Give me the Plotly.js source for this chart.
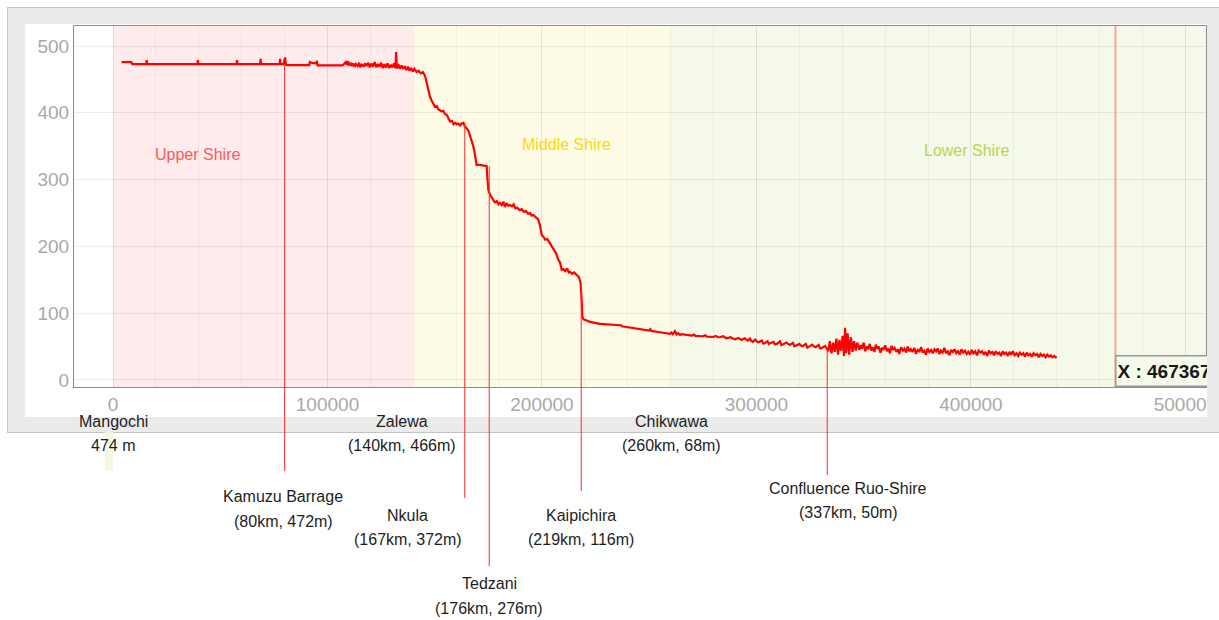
<!DOCTYPE html>
<html>
<head>
<meta charset="utf-8">
<script src="https://cdn.plot.ly/plotly-3.0.1.min.js"></script>
<style>
  html, body { margin: 0; padding: 0; background: #ffffff; width: 1219px; height: 620px; overflow: hidden; }
  #panel { position: absolute; left: 7px; top: 7px; width: 1240px; height: 424px; background: #ebebeb;
           border-top: 1.5px solid #c4c4c4; border-left: 1.5px solid #c8c8c8; border-bottom: 1.5px solid #c4c4c4; }
  #inner { position: absolute; left: 25px; top: 24px; width: 1182px; height: 393px; background: #ffffff; }
  #chart { position: absolute; left: 0; top: 0; width: 1219px; height: 620px; }
  #rightclip { position: absolute; left: 1207px; top: 24px; width: 20px; height: 393px; background: #ebebeb; z-index: 5; }
</style>
</head>
<body>
<div id="panel"></div>
<div id="inner"></div>
<div id="chart"></div>
<div id="rightclip"></div>
<script>
// ---------- DATA (distance km, elevation m) ----------
const upperProfile = [
  [4,476],[8.5,476],[9,473],[15.5,473],[15.7,479],[15.9,473],[39.4,473],[39.6,479],[39.8,473],
  [57.6,473],[57.8,479],[58,473],[68.6,473],[68.8,481],[69,473],[77.7,473],[77.9,481],[78.1,473],
  [79.5,473],[80.2,483],[80.6,472],[81,471.5],[91.5,471.5],[91.8,476],[92.5,475],[94.8,474],[95,478],
  [95.3,471],[107,471],[108,474],[108.5,476],[109,472],[109.5,477],[110,471],[110.7,475],[111.3,470],
  [112,474],[112.6,469],[113.2,473],[114,470],[114.7,475],[115.3,468],[116,473],[116.8,469],[117.5,474],
  [118.2,470],[119,475],[119.7,468],[120.5,474],[121.2,469],[122,476],[122.8,468],[123.5,473],[124.3,469],
  [125,475],[125.8,467],[126.5,473],[127.3,468],[128,474],[128.8,467],[129.5,472],[130.3,468],[131,474],
  [131.7,467],[132,491],[132.3,466],[133,473],[133.8,466],[134.5,471],[135.3,466],[136,470],[136.8,464],
  [137.5,469],[138.3,463],[139,467],[139.8,462],[140.5,466],[141.5,461],[142.5,463],[143.5,459],[144.5,461]
];
const middleProfile = [
  [145.5,455],[146.2,444],[147,432],[147.8,424],[148.6,418],[149.4,412],[150.1,409],[151,410],[151.7,405],
  [152.4,404],[153.2,402],[154,403],[154.8,398],[155.6,397],[156.3,392],[157.1,387],[158,388],[158.8,383],
  [159.5,385],[160.2,383],[161,384],[161.8,381],[162.5,384],[163.3,385],[164,380],[164.8,377],[165.6,374],
  [166.4,366],[167.2,359],[167.8,352],[168.4,344],[169,331],[169.5,322],[171,322],[172.5,321],[174.2,320],
  [174.6,300],[175,284],[176,276],[177.3,269],[178,266],[179,268],[179.7,263],[180.4,265],[181.2,262],
  [182,267],[182.7,259],[183.5,265],[184.3,261],[185.1,262],[186,260],[186.8,263],[187.6,257],[188.5,258],
  [189.7,254],[190.5,256],[191.5,252],[192.5,253],[193.5,249],[194.5,250],[195.2,246],[196,247],[197,244],
  [198.3,240],[199,232],[199.9,217],[200.8,214],[201.5,210],[202.5,211],[203.7,205],[204.5,200],[205.5,197],
  [206.5,190],[207.6,180],[208.4,176],[209.2,165],[210,166],[210.8,163],[211.7,167],[212.5,161],[213.1,162],
  [214,159],[215,161],[216.2,157],[217,155],[217.6,150],[218,145],[218.5,120],[218.8,95],[219.3,91],
  [220,90],[222.4,87]
];
const lowerProfile = [
  [227,84],[232,82.5],[236.4,81],[236.8,82],[237.2,80.5],[245,77],[250,74],[250.5,76],[251,73.5],[255,71.5],
  [259.7,69],[260.3,71],[261,68.5],[262,73],[262.8,68],[263.5,70],[264.3,67.5],[265,68.5],[270,66.5],[271,68],
  [271.5,66],[275,65.5],[276,67],[277,65],[280,64.5],[281,66],[282,64],[283,64],[284.5,65.5],[286,62.5],
  [288,64],[289,62],[290,61],[291.5,63],[292.2,61.5],[293,60],[294.5,62.5],[295.3,60],[296,59],[297,62],
  [297.6,58.5],[298.3,57],[299.5,60.5],[300.2,57.5],[301,56.5],[302.5,59],[303.2,54.5],[304,55.5],[305.2,58],
  [305.8,54],[306.3,55],[308,57],[308.6,53.5],[309.5,54],[311,58],[311.7,52],[312.5,53],[314,56],[314.8,54],
  [315.5,52.5],[317,55.5],[317.7,50.5],[318.5,51.5],[320,54],[320.6,52],[321.5,50.5],[323,54],[323.7,48.5],
  [324.5,50],[326,53],[326.6,50.5],[327.5,49],[329,52.5],[329.8,47],[330.5,48],[332,51],[333.5,43],[334.2,58],
  [335,40],[335.8,56],[336.5,42],[337.3,62],[338,38],[338.7,60],[339.4,44],[340.2,66],[340.8,36],[341.3,78],
  [341.8,40],[342.5,70],[343.2,38],[344,64],[344.8,42],[345.5,58],[346.3,44],[347,56],
  [348,45],[348.6,52],[349.2,47],[350,56],[350.7,43],[351.3,50],[352,46],[352.8,54],[353.5,44],[354.1,49],
  [355,42],[355.6,53],[356.4,47],[357,50],[357.8,41],[358.5,48],[359.2,45],[360,52],[360.8,43],[361.5,47],
  [362.2,40],[363,51],[363.7,45],[364.4,48],[365.2,42],[366,46],[366.6,39],[367.4,49],[368.3,44],[369,47],
  [369.8,41],[370.5,50],[371.3,43],[372,46],[372.8,42],[373.6,48],[374.4,39],[375.2,45],[376,43],[376.8,49],
  [377.5,41],[378.3,44],[379,38],[379.8,47],[380.6,42],[381.4,45],[382.2,40],[383,46],[383.8,43],[384.5,47],
  [385.3,39],[386,44],[386.8,41],[387.6,48],[388.4,40],[389.2,43],[390,37],[390.8,45],[391.6,42],[392.4,46],
  [393.2,40],[394,43],[394.8,38],[395.6,46],[396.4,41],[397.2,44],[398,39],[398.8,42],[399.6,38],[400.4,45],
  [401.2,40],[402,43],[402.8,37],[403.6,44],[404.4,41],[405.2,43],[406,38],[406.8,42],[407.6,36],[408.4,44],
  [409.2,40],[410,42],[410.8,37],[411.6,43],[412.4,39],[413.2,41],[414,36],[414.8,43],[415.6,39],[416.4,41],
  [417.2,36],[418,42],[418.8,38],[419.6,43],[420.4,37],[421.2,40],[422,36],[422.8,41],[423.6,38],[424.4,40],
  [425.2,35],[426,41],[426.8,37],[427.6,39],[428.4,35],[429.2,40],[430,37],[430.8,39],[431.6,34],[432.4,39],
  [433.2,36],[434,38],[434.8,34],[435.6,38],[436.4,35],[437.2,37],[438,34],[438.8,36],[439.5,34],[440,35]
];

const regionNames = ['Upper Shire', 'Middle Shire', 'Lower Shire'];
const regionStart = [0, 140000, 260000];
const regionEnd   = [140000, 260000, 520000];

const stationNames = ['Mangochi', 'Zalewa', 'Chikwawa', 'Kamuzu Barrage', 'Nkula', 'Tedzani', 'Kaipichira', 'Confluence Ruo-Shire'];
const stationInfo  = ['474 m', '(140km, 466m)', '(260km, 68m)', '(80km, 472m)', '(167km, 372m)', '(176km, 276m)', '(219km, 116m)', '(337km, 50m)'];

const markerDist = [80000, 164000, 175400, 218300, 333000];   // vertical marker lines (m)
const markerElev = [472, 386, 320, 145, 48];                  // elevation where each line starts (m)

const cursorX = 467367;

// ---------- LAYOUT / STYLE ----------
const regionFill  = ['#feebeb', '#fefce6', '#f5f9ea'];
const regionText  = ['#ff5a5a', '#ffd60a', '#b5d64c'];
const regionLabelX = [39600, 211200, 397700];
const regionLabelY = [337, 353, 343];

const labelX = [0, 134700, 260600, 79300, 137500, 175500, 218200, 342700];
const labelY = [-0.0942, -0.0942, -0.0942, -0.3047, -0.3573, -0.5457, -0.3573, -0.2825];
const lineGap = 0.0665;
const markerBottom = [-0.2327, -0.3075, -0.4958, -0.2881, -0.2438];

const profile = upperProfile.concat(middleProfile, lowerProfile);
const xs = profile.map(p => p[0] * 1000);
const ys = profile.map(p => p[1]);

const FONT = 'Liberation Sans, Arial, Helvetica, sans-serif';

const shapes = [];
regionNames.forEach((n, i) => {
  shapes.push({type: 'rect', xref: 'x', yref: 'paper', x0: regionStart[i], x1: regionEnd[i], y0: 0, y1: 1,
               fillcolor: regionFill[i], line: {width: 0}, layer: 'below'});
});
// faint green strip under Mangochi
shapes.push({type: 'rect', xref: 'x', yref: 'paper', x0: -3700, x1: 0, y0: -0.2299, y1: -0.1247,
             fillcolor: '#f2f8e2', line: {width: 0}, layer: 'below'});
markerDist.forEach((d, i) => {
  shapes.push({type: 'line', xref: 'x', yref: 'y', x0: d, x1: d, y0: markerElev[i], y1: -10.5,
               line: {color: '#ff2a2a', width: 1}});
  shapes.push({type: 'line', xref: 'x', yref: 'paper', x0: d, x1: d, y0: 0, y1: markerBottom[i],
               line: {color: '#ff2a2a', width: 1}});
});
shapes.push({type: 'line', xref: 'x', yref: 'paper', x0: cursorX, x1: cursorX, y0: 0, y1: 1,
             line: {color: '#f6a59d', width: 2}});

const annotations = [];
regionNames.forEach((n, i) => {
  annotations.push({x: regionLabelX[i], y: regionLabelY[i], xref: 'x', yref: 'y', text: n, showarrow: false,
                    font: {family: FONT, size: 16, color: regionText[i]}});
});
stationNames.forEach((n, i) => {
  annotations.push({x: labelX[i], y: labelY[i], xref: 'x', yref: 'paper', text: n, showarrow: false,
                    xanchor: 'center', yanchor: 'middle', font: {family: FONT, size: 16, color: '#1e1e1e'}});
  annotations.push({x: labelX[i], y: labelY[i] - lineGap, xref: 'x', yref: 'paper', text: stationInfo[i], showarrow: false,
                    xanchor: 'center', yanchor: 'middle', font: {family: FONT, size: 16, color: '#1e1e1e'}});
});
annotations.push({x: cursorX, y: 0, xref: 'x', yref: 'paper', xanchor: 'left', yanchor: 'bottom',
                  text: 'X : ' + cursorX, showarrow: false, align: 'left', width: 100, height: 27,
                  bgcolor: '#f5f9ea', bordercolor: '#9a9a9a', borderwidth: 1.5, borderpad: 1,
                  font: {family: FONT, size: 19, color: '#1a1a1a', weight: 'bold'}});

const trace = {x: xs, y: ys, type: 'scatter', mode: 'lines', line: {color: '#ff0000', width: 2.2},
               hoverinfo: 'skip', showlegend: false};

const layout = {
  width: 1219, height: 620,
  margin: {l: 74, r: 13, t: 26, b: 233, pad: 0},
  paper_bgcolor: 'rgba(0,0,0,0)', plot_bgcolor: 'rgba(0,0,0,0)',
  font: {family: FONT},
  showlegend: false,
  xaxis: {range: [-18200, 509600], dtick: 100000, tick0: 0, showgrid: true, gridcolor: 'rgba(0,0,0,0.09)', gridwidth: 1,
          minor: {dtick: 20000, showgrid: true, gridcolor: 'rgba(0,0,0,0.045)', gridwidth: 1},
          zeroline: false, showline: true, mirror: true, linecolor: '#8c8c8c', linewidth: 1,
          ticks: '', tickformat: 'd', tickfont: {family: FONT, size: 19, color: '#a9a9a9'}, fixedrange: true},
  yaxis: {range: [-10.5, 530], dtick: 100, tick0: 0, showgrid: true, gridcolor: 'rgba(0,0,0,0.07)', gridwidth: 1,
          zeroline: false, showline: true, mirror: true, linecolor: '#8c8c8c', linewidth: 1,
          ticks: '', tickfont: {family: FONT, size: 19, color: '#a9a9a9'}, fixedrange: true},
  shapes: shapes,
  annotations: annotations
};

Plotly.newPlot('chart', [trace], layout, {displayModeBar: false, staticPlot: true});
</script>
</body>
</html>
